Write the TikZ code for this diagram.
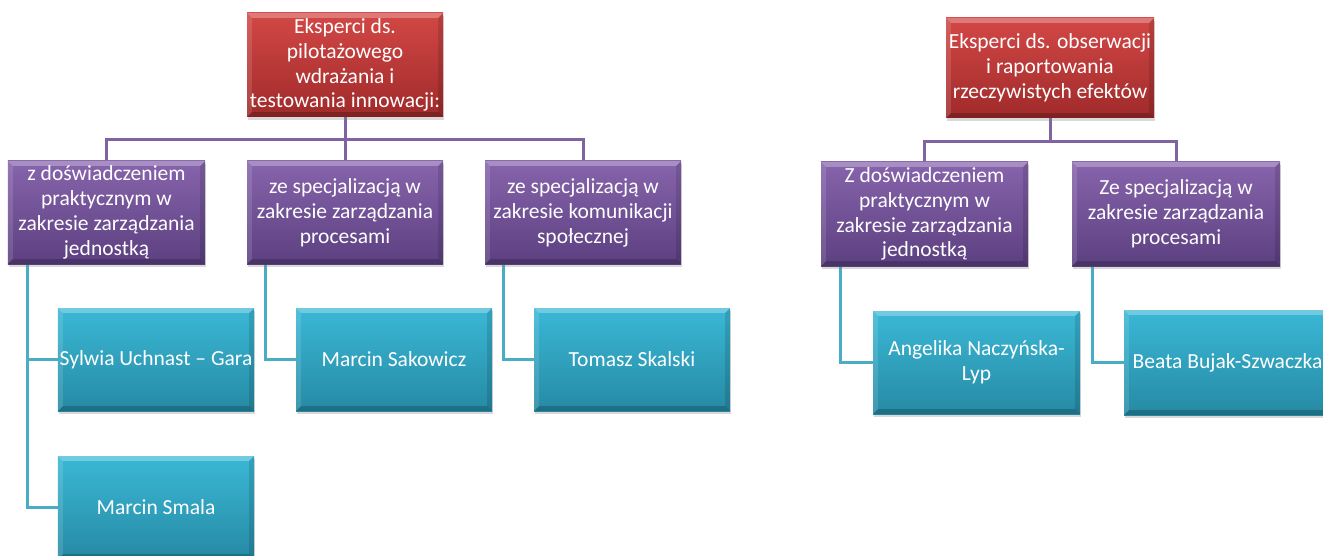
\documentclass[tikz,border=0pt]{standalone}
\usepackage{fontspec}
\setmainfont{Carlito}
\usetikzlibrary{shadows,backgrounds}
\definecolor{redtop}{RGB}{210,72,70}
\definecolor{redbot}{RGB}{160,42,42}
\definecolor{purtop}{RGB}{135,100,172}
\definecolor{purbot}{RGB}{92,64,128}
\definecolor{teatop}{RGB}{58,184,214}
\definecolor{teabot}{RGB}{38,138,164}
\definecolor{purline}{RGB}{128,100,162}
\definecolor{tealine}{RGB}{75,172,198}
\tikzset{
  bevel/.style={path picture={
    \coordinate (bnw) at (path picture bounding box.north west);
    \coordinate (bne) at (path picture bounding box.north east);
    \coordinate (bsw) at (path picture bounding box.south west);
    \coordinate (bse) at (path picture bounding box.south east);
    \fill[white,opacity=0.28] (bnw) -- (bne) -- ([xshift=-5pt,yshift=-5pt]bne) -- ([xshift=5pt,yshift=-5pt]bnw) -- cycle;
    \fill[white,opacity=0.12] (bnw) -- ([xshift=5pt,yshift=-5pt]bnw) -- ([xshift=5pt,yshift=5pt]bsw) -- (bsw) -- cycle;
    \fill[black,opacity=0.12] (bne) -- ([xshift=-5pt,yshift=-5pt]bne) -- ([xshift=-5pt,yshift=5pt]bse) -- (bse) -- cycle;
    \fill[black,opacity=0.2] (bsw) -- ([xshift=5pt,yshift=5pt]bsw) -- ([xshift=-5pt,yshift=5pt]bse) -- (bse) -- cycle;
  }},
  box/.style={rectangle, inner sep=0pt, align=center, text=white,
    font=\fontsize{21.6}{25}\selectfont, bevel,
    drop shadow={shadow xshift=1pt, shadow yshift=-3pt, opacity=0.3}},
  rootbox/.style={box, top color=redtop, bottom color=redbot},
  midbox/.style={box, top color=purtop, bottom color=purbot},
  leafbox/.style={box, top color=teatop, bottom color=teabot},
  pline/.style={draw=purline, line width=3pt},
  tline/.style={draw=tealine, line width=3pt},
}
\begin{document}
\begin{tikzpicture}[x=1bp,y=-1bp]
\useasboundingbox (0,0) rectangle (1323,556);
\clip (0,0) rectangle (1323,556);
% left tree
\node[rootbox, minimum width=196bp, minimum height=104bp] (r1) at (345,65)
  {Eksperci ds.\\pilotażowego\\wdrażania i\\testowania innowacji:};
\node[midbox, minimum width=197bp, minimum height=103bp] (p1) at (106.5,212.5)
  {z doświadczeniem\\praktycznym w\\zakresie zarządzania\\jednostką};
\node[midbox, minimum width=196bp, minimum height=103bp] (p2) at (345,212.5)
  {ze specjalizacją w\\zakresie zarządzania\\procesami};
\node[midbox, minimum width=196bp, minimum height=103bp] (p3) at (583,212.5)
  {ze specjalizacją w\\zakresie komunikacji\\społecznej};
\node[leafbox, minimum width=196bp, minimum height=103bp] (t1) at (156,359.5)
  {Sylwia Uchnast – Gara};
\node[leafbox, minimum width=196bp, minimum height=103bp] (t2) at (156,507.5)
  {Marcin Smala};
\node[leafbox, minimum width=196bp, minimum height=103bp] (t3) at (394,359.5)
  {Marcin Sakowicz};
\node[leafbox, minimum width=196bp, minimum height=103bp] (t4) at (632,359.5)
  {Tomasz Skalski};
% right tree
\node[rootbox, minimum width=208bp, minimum height=100bp] (r2) at (1050,68)
  {Eksperci ds. obserwacji\\i raportowania\\rzeczywistych efektów};
\node[midbox, minimum width=207bp, minimum height=104bp] (q1) at (924.5,214)
  {Z doświadczeniem\\praktycznym w\\zakresie zarządzania\\jednostką};
\node[midbox, minimum width=208bp, minimum height=104bp] (q2) at (1176,214)
  {Ze specjalizacją w\\zakresie zarządzania\\procesami};
\node[leafbox, minimum width=207bp, minimum height=103bp] (u1) at (976.5,362.5)
  {Angelika Naczyńska-\\Lyp};
\node[leafbox, minimum width=207bp, minimum height=105bp] (u2) at (1227.5,362.5)
  {Beata Bujak-Szwaczka};
\begin{scope}[on background layer]
  \draw[pline] (r1.south) -- ++(0,22) -| (p1.north);
  \draw[pline] (r1.south) -- ++(0,22) -| (p2.north);
  \draw[pline] (r1.south) -- ++(0,22) -| (p3.north);
  \draw[pline] (r2.south) -- ++(0,23) -| (q1.north);
  \draw[pline] (r2.south) -- ++(0,23) -| (q2.north);
  \draw[tline] ([xshift=20bp]p1.south west) |- (t1.west);
  \draw[tline] ([xshift=20bp]p1.south west) |- (t2.west);
  \draw[tline] ([xshift=19bp]p2.south west) |- (t3.west);
  \draw[tline] ([xshift=19bp]p3.south west) |- (t4.west);
  \draw[tline] ([xshift=20bp]q1.south west) |- (u1.west);
  \draw[tline] ([xshift=21bp]q2.south west) |- (u2.west);
\end{scope}
\end{tikzpicture}
\end{document}
